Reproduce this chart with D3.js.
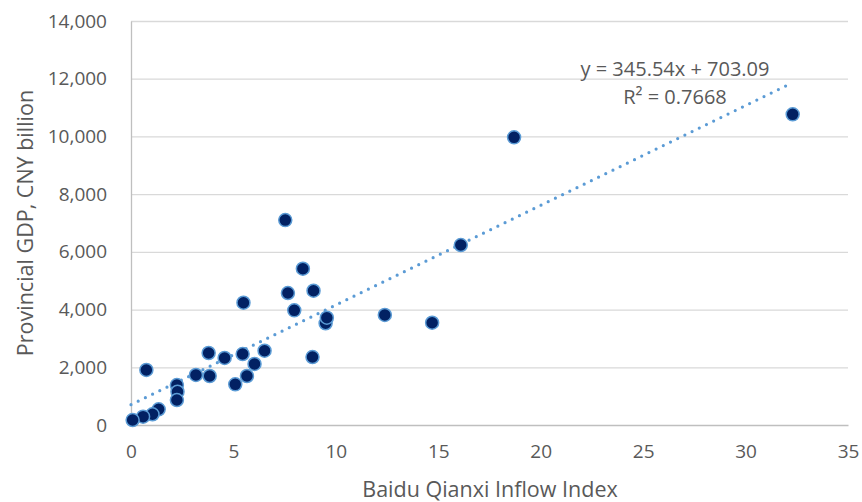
<!DOCTYPE html>
<html>
<head>
<meta charset="utf-8">
<script src="https://cdn.jsdelivr.net/npm/d3@7"></script>
<style>
  body { margin: 0; background: #fff; }
  svg { display: block; font-family: "Open Sans", sans-serif; }
</style>
</head>
<body>
<div id="chart"></div>
<script>
// Baidu Qianxi inflow index vs provincial GDP (CNY billion), one point per province
const inflowIndex = [7.53, 8.39, 7.66, 8.91, 7.97, 5.49, 9.50, 9.56, 8.86, 3.79,
  4.57, 5.45, 6.52, 6.03, 5.66, 5.09, 3.84, 3.17, 0.75, 2.24,
  2.27, 2.24, 1.35, 1.05, 0.59, 0.08, 18.70, 32.30, 16.10, 12.39, 14.70];
const gdpValues = [7100, 5416, 4574, 4653, 3974, 4238, 3524, 3718, 2356, 2495,
  2322, 2460, 2574, 2114, 1698, 1410, 1698, 1733, 1906, 1386,
  1154, 866, 544, 371, 288, 173, 9969, 10766, 6237, 3812, 3545];

const xTicks = [0, 5, 10, 15, 20, 25, 30, 35];
const yTicks = [0, 2000, 4000, 6000, 8000, 10000, 12000, 14000];

// linear trendline reported on the chart
const trendSlope = 345.54;
const trendIntercept = 703.09;
const trendLabel = "y = 345.54x + 703.09";
const r2Label = "R\u00b2 = 0.7668";

const width = 862, height = 502;
const margin = { top: 21, right: 14, bottom: 77, left: 131 };
const chartWidth = width - margin.left - margin.right;
const chartHeight = height - margin.top - margin.bottom;

const svg = d3.select("#chart")
  .append("svg")
  .attr("width", width)
  .attr("height", height);

const g = svg.append("g").attr("transform", `translate(${margin.left},${margin.top})`);

const x = d3.scaleLinear().domain([0, 35]).range([0, chartWidth]);
const y = d3.scaleLinear().domain([0, 14000]).range([chartHeight, 0]);

// Gridlines
g.append("g")
  .selectAll("line")
  .data(yTicks.filter(d => d > 0))
  .enter()
  .append("line")
  .attr("x1", 0)
  .attr("x2", chartWidth)
  .attr("y1", d => y(d) + 0.5)
  .attr("y2", d => y(d) + 0.5)
  .attr("stroke", "#d9d9d9")
  .attr("stroke-width", 1.3);

// Axes
const yAxis = g.append("g")
  .call(d3.axisLeft(y).tickValues(yTicks).tickSize(0).tickPadding(24)
    .tickFormat(d3.format(",")));
yAxis.select(".domain").attr("stroke", "#bfbfbf").attr("stroke-width", 1.3);
yAxis.selectAll("text")
  .attr("fill", "#595959")
  .attr("font-size", "19px")
  .attr("font-family", "Open Sans");

const xAxis = g.append("g")
  .attr("transform", `translate(0,${chartHeight})`)
  .call(d3.axisBottom(x).tickValues(xTicks).tickSize(0).tickPadding(20));
xAxis.select(".domain").attr("stroke", "#bfbfbf").attr("stroke-width", 1.3);
xAxis.selectAll("text")
  .attr("fill", "#595959")
  .attr("font-size", "19px")
  .attr("font-family", "Open Sans");

// Axis titles
svg.append("text")
  .attr("x", 490)
  .attr("y", 497)
  .attr("text-anchor", "middle")
  .attr("fill", "#595959")
  .attr("font-size", "21.5px")
  .text("Baidu Qianxi Inflow Index");

svg.append("text")
  .attr("transform", "translate(33,223) rotate(-90)")
  .attr("text-anchor", "middle")
  .attr("fill", "#595959")
  .attr("font-size", "21.5px")
  .text("Provincial GDP, CNY billion");

// Dotted trendline from 0 to the largest x value
const xMax = d3.max(inflowIndex);
g.append("line")
  .attr("x1", x(0))
  .attr("y1", y(trendIntercept))
  .attr("x2", x(xMax))
  .attr("y2", y(trendSlope * xMax + trendIntercept))
  .attr("stroke", "#5b9bd5")
  .attr("stroke-width", 3.2)
  .attr("stroke-linecap", "round")
  .attr("stroke-dasharray", "0,8");

// Points
const points = inflowIndex.map((v, i) => ({ x: v, y: gdpValues[i] }));
g.selectAll(".dot")
  .data(points)
  .enter()
  .append("circle")
  .attr("class", "dot")
  .attr("cx", d => x(d.x))
  .attr("cy", d => y(d.y))
  .attr("r", 6.5)
  .attr("fill", "#022163")
  .attr("stroke", "#5b9bd5")
  .attr("stroke-width", 1.5);

// Trendline labels
svg.append("text")
  .attr("x", 675)
  .attr("y", 76)
  .attr("text-anchor", "middle")
  .attr("fill", "#595959")
  .attr("font-size", "20px")
  .text(trendLabel);

svg.append("text")
  .attr("x", 675)
  .attr("y", 104)
  .attr("text-anchor", "middle")
  .attr("fill", "#595959")
  .attr("font-size", "20px")
  .text(r2Label);
</script>
</body>
</html>
